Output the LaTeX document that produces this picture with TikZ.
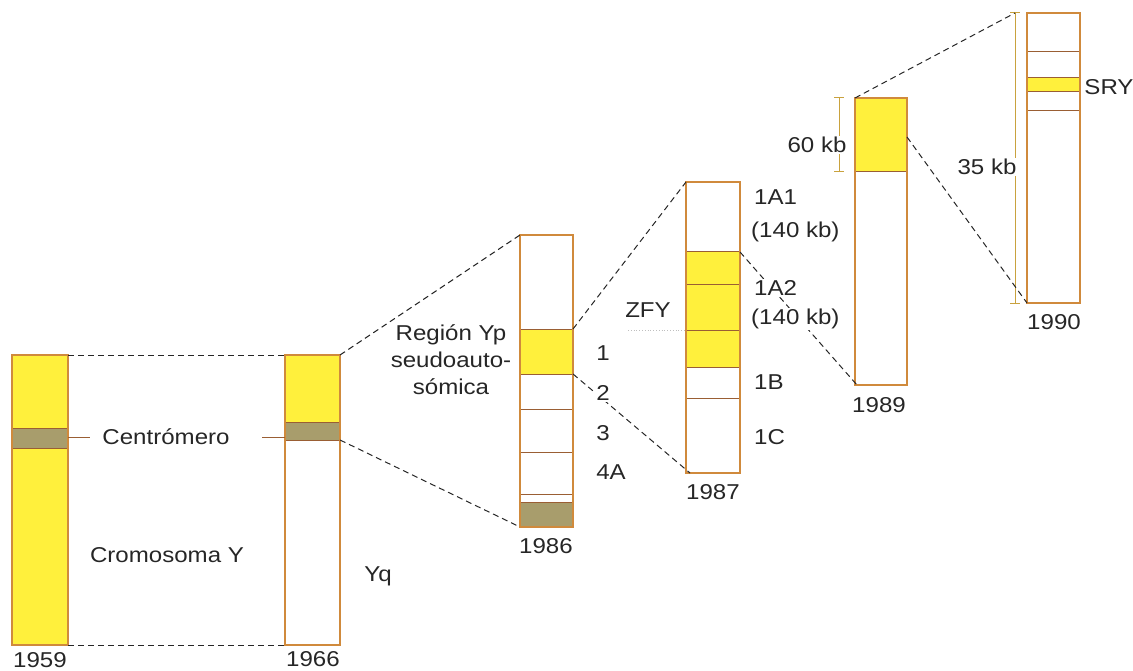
\documentclass[tikz,border=0pt]{standalone}
\usepackage{fontspec}
\setmainfont{Liberation Sans}[FakeStretch=1.12]
\definecolor{chromyellow}{HTML}{FFF03C}
\definecolor{barline}{HTML}{D08A3C}
\definecolor{bandline}{HTML}{9A5E34}
\definecolor{centro}{HTML}{A89D6C}
\definecolor{dimline}{HTML}{C9A23E}
\begin{document}
\begin{tikzpicture}[x=1pt,y=-1pt,
  bar/.style={draw=barline, line width=1.1pt},
  yel/.style={fill=chromyellow},
  cen/.style={fill=centro},
  band/.style={draw=bandline, line width=1pt},
  conn/.style={draw=black!85, line width=1pt, dash pattern=on 6pt off 4pt},
  lbl/.style={font=\fontsize{21.5}{27}\selectfont, text=black!85, inner sep=1pt},
  wlbl/.style={lbl, fill=white},
  dim/.style={draw=dimline, line width=1pt},
  tick/.style={draw=bandline, line width=0.9pt}]
\useasboundingbox (0,0) rectangle (1133,671);

% ---------- 1959 ----------
\fill[yel] (12,355) rectangle (68,645);
\fill[cen] (12,428) rectangle (68,448);
\draw[band] (12,428) -- (68,428) (12,448) -- (68,448);
\draw[bar] (12,355) rectangle (68,645);
\coordinate (a59tr) at (68,355);
\coordinate (a59br) at (68,645);
\coordinate (a59c) at (68,437);
\coordinate (t59) at (90,437);
\node[lbl] (y1959) at (40,660) {1959};

% ---------- 1966 ----------
\fill[yel] (285,355) rectangle (340,422);
\fill[cen] (285,422) rectangle (340,440);
\draw[band] (285,422) -- (340,422) (285,440) -- (340,440);
\draw[bar] (285,355) rectangle (340,645);
\coordinate (a66tl) at (285,355);
\coordinate (a66bl) at (285,645);
\coordinate (a66tr) at (340,355);
\coordinate (a66cr) at (340,440);
\coordinate (a66c) at (285,437);
\coordinate (t66) at (262,437);
\node[lbl] (y1966) at (313,659) {1966};

\node[lbl] (centromero) at (166,437) {Centrómero};
\node[lbl] (cromY) at (167,555) {Cromosoma Y};
\node[lbl] (yq) at (378,576) {Yq};
\draw[tick] (a59c) -- (t59);
\draw[tick] (t66) -- (a66c);

\draw[conn] (a59tr) -- (a66tl);
\draw[conn] (a59br) -- (a66bl);

% ---------- 1986 ----------
\fill[yel] (520,329) rectangle (573,374);
\fill[cen] (520,502) rectangle (573,527);
\draw[band] (520,329) -- (573,329) (520,374) -- (573,374)
  (520,409) -- (573,409) (520,452) -- (573,452) (520,494) -- (573,494) (520,502) -- (573,502);
\draw[bar] (520,235) rectangle (573,527);
\coordinate (b86tl) at (520,235);
\coordinate (b86bl) at (520,527);
\coordinate (b86yt) at (573,329);
\coordinate (b86yb) at (573,374);
\node[lbl] (y1986) at (546,546) {1986};
\node[lbl, align=center] (regyp) at (451,360) {Región Yp\\seudoauto-\\sómica};
\node[lbl] (n1) at (603,353) {1};
\node[lbl] (n3) at (603,433) {3};
\node[lbl] (n4a) at (611,472) {4A};

\draw[conn] (a66tr) -- (b86tl);
\draw[conn] (a66cr) -- (b86bl);

% ---------- 1987 ----------
\fill[yel] (686,252) rectangle (740,367);
\draw[band] (686,252) -- (740,252) (686,285) -- (740,285) (686,330) -- (740,330)
  (686,367) -- (740,367) (686,398) -- (740,398);
\draw[bar] (686,182) rectangle (740,473);
\coordinate (c87tl) at (686,182);
\coordinate (c87bl) at (690,473);
\coordinate (c87yt) at (740,252);
\coordinate (c87z) at (686,330);
\coordinate (zfyl) at (628,330);
\node[lbl] (y1987) at (713,492) {1987};
\node[lbl] (zfy) at (648,310) {ZFY};
\draw[black!25, dotted, line width=0.8pt] (zfyl) -- (c87z);

\draw[conn] (b86yt) -- (c87tl);
\draw[conn] (b86yb) -- (c87bl);
\node[wlbl] (n2) at (603,393) {2};

% ---------- 1989 ----------
\fill[yel] (855,98) rectangle (907,172);
\draw[band] (855,172) -- (907,172);
\draw[bar] (855,98) rectangle (907,385);
\coordinate (d89tl) at (855,98);
\coordinate (d89bl) at (857,385);
\coordinate (d89r) at (907,137);
\node[lbl] (y1989) at (879,405) {1989};
\draw[conn] (c87yt) -- (d89bl);
\node[wlbl, anchor=west] (l1a1) at (753,197) {1A1};
\node[wlbl, anchor=west] (l140a) at (750,232) {(140 kb)};
\node[wlbl, anchor=west] (l1a2) at (753,288) {1A2};
\node[wlbl, anchor=west] (l140b) at (750,319) {(140 kb)};
\node[lbl, anchor=west] (l1b) at (753,382) {1B};
\node[lbl, anchor=west] (l1c) at (753,437) {1C};

% 60 kb dimension
\coordinate (k60t) at (839,98);
\coordinate (k60b) at (839,172);
\draw[dim] (k60t) -- (k60b);
\draw[dim] (834,98) -- (844,98) (834,172) -- (844,172);
\node[wlbl] (kb60) at (817,145) {60 kb};

% ---------- 1990 ----------
\fill[yel] (1027,78) rectangle (1080,92);
\draw[band] (1027,52) -- (1080,52) (1027,78) -- (1080,78) (1027,92) -- (1080,92) (1027,111) -- (1080,111);
\draw[bar] (1027,13) rectangle (1080,303);
\coordinate (e90bl) at (1027,303);
\node[lbl] (y1990) at (1054,322) {1990};
\node[lbl] (sry) at (1109,87) {SRY};

% 35 kb dimension
\coordinate (k35t) at (1015,13);
\coordinate (k35b) at (1015,303);
\draw[dim] (k35t) -- (k35b);
\draw[dim] (1010,13) -- (1020,13) (1010,303) -- (1020,303);

\draw[conn] (d89tl) -- (k35t);
\draw[conn] (d89r) -- (e90bl);
\node[wlbl] (kb35) at (987,167) {35 kb};
\end{tikzpicture}
\end{document}
